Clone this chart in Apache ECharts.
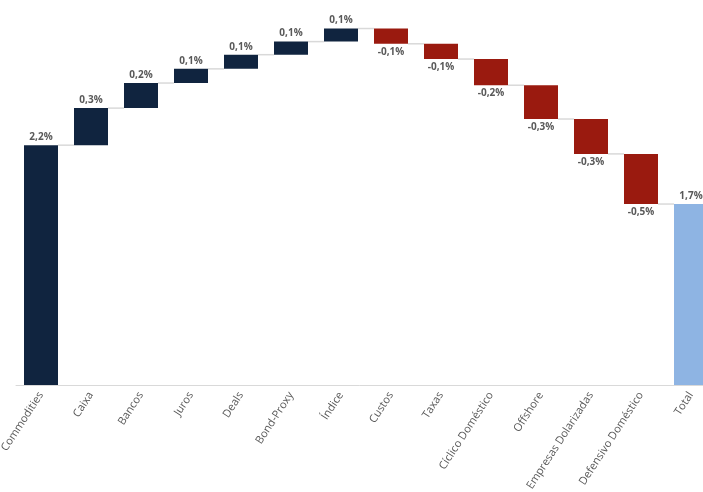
<!DOCTYPE html>
<html><head><meta charset="utf-8">
<script src="https://cdn.jsdelivr.net/npm/echarts@6/dist/echarts.min.js"></script>
<style>html,body{margin:0;padding:0;background:#fff}#c{width:703px;height:492px}</style>
</head><body><div id="c"></div>
<script>
const categories = ['Commodities','Caixa','Bancos','Juros','Deals','Bond-Proxy','Índice','Custos','Taxas','Cíclico Doméstico','Offshore','Empresas Dolarizadas','Defensivo Doméstico','Total'];
const deltas = [2.2, 0.34, 0.23, 0.13, 0.13, 0.12, 0.12, -0.14, -0.14, -0.24, -0.31, -0.32, -0.46];
const labels = ['2,2%','0,3%','0,2%','0,1%','0,1%','0,1%','0,1%','-0,1%','-0,1%','-0,2%','-0,3%','-0,3%','-0,5%','1,7%'];

const NAVY = '#10243f', RED = '#9a1a0f', BLUE = '#8eb4e3';
const base = [], vis = [], cum = [];
let run = 0;
deltas.forEach((d, i) => {
  const prev = run; run += d; cum.push(run);
  base.push(Math.min(prev, run));
  vis.push({value: Math.abs(d), itemStyle: {color: d >= 0 ? NAVY : RED},
    label: {position: d >= 0 ? 'top' : 'bottom', formatter: labels[i]}});
});
base.push(0); cum.push(run);
vis.push({value: run, itemStyle: {color: BLUE}, label: {position: 'top', formatter: labels[labels.length - 1]}});

const connectors = cum.slice(0, -1).map((v, i) => [i, v]);

const chart = echarts.init(document.getElementById('c'));
chart.setOption({
  animation: false,
  grid: {left: 16, width: 700, top: 10, bottom: 107, containLabel: false, outerBoundsMode: 'none'},
  xAxis: {type: 'category', data: categories,
    axisLine: {lineStyle: {color: '#d9d9d9', width: 1}}, axisTick: {show: false},
    axisLabel: {interval: 0, rotate: 57, color: '#595959', fontSize: 11, fontFamily: 'Open Sans', margin: 8}},
  yAxis: {type: 'value', min: 0, max: 3.44, show: false, splitLine: {show: false}},
  series: [
    {type: 'bar', stack: 'w', data: base, itemStyle: {color: 'transparent'}, barWidth: '68%', silent: true},
    {type: 'bar', stack: 'w', data: vis, barWidth: '68%',
      label: {show: true, color: '#595959', fontSize: 10, fontWeight: 'bold', fontFamily: 'Open Sans', distance: 3}},
    {type: 'custom', data: connectors, z: 1, silent: true,
      renderItem: (params, api) => {
        const i = api.value(0), v = api.value(1);
        const p1 = api.coord([i, v]), p2 = api.coord([i + 1, v]);
        const bw = api.size([1, 0])[0] * 0.68;
        return {type: 'line', shape: {x1: p1[0] + bw / 2, y1: p1[1], x2: p2[0] - bw / 2, y2: p2[1]},
          style: {stroke: '#d9d9d9', lineWidth: 1.5}};
      }}
  ]
});
</script></body></html>
